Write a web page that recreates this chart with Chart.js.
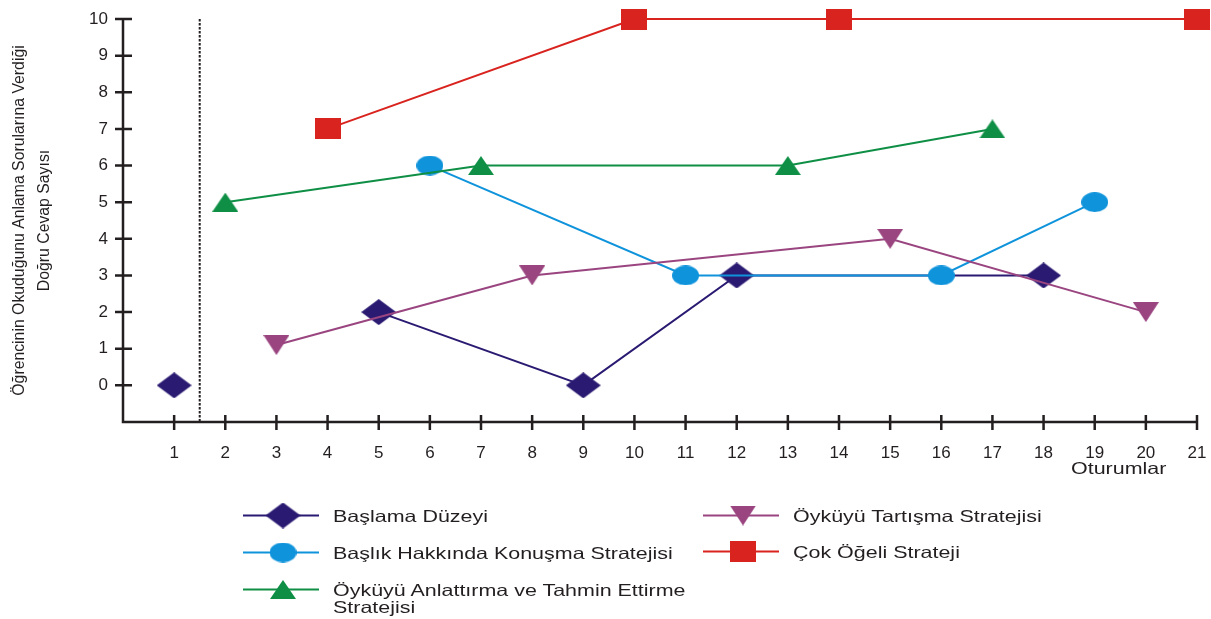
<!DOCTYPE html>
<html>
<head>
<meta charset="utf-8">
<script src="https://cdn.jsdelivr.net/npm/chart.js@4.4.1/dist/chart.umd.min.js"></script>
<style>
  body { margin: 0; background: #fff; }
  #wrap { position: relative; width: 1211px; height: 619px; }
  #chart { position: absolute; left: 0; top: 0; }
  .lg { position: absolute; display: flex; align-items: flex-start; font-family: "Liberation Sans", Arial, sans-serif; font-size: 16.5px; color: #231f20; line-height: 17px; }
  .lg canvas { flex: none; margin-right: 14px; }
  .lg span { padding-top: 6px; white-space: nowrap; transform: scaleX(1.3); transform-origin: left top; }
  #xtitle { position: absolute; font-family: "Liberation Sans", Arial, sans-serif; font-size: 16.5px; color: #231f20; transform: scaleX(1.3); transform-origin: left top; }
</style>
</head>
<body>
<div id="wrap">
  <canvas id="chart" width="1211" height="619"></canvas>
  <div id="xtitle" style="left:1071px; top:459px;">Oturumlar</div>
  <div id="legend"></div>
</div>
<script>
const sessions = [1, 2, 3, 4, 5, 6, 7, 8, 9, 10, 11, 12, 13, 14, 15, 16, 17, 18, 19, 20, 21];
const yTicks = [0, 1, 2, 3, 4, 5, 6, 7, 8, 9, 10];

const seriesNames = [
  'Başlama Düzeyi',
  'Başlık Hakkında Konuşma Stratejisi',
  'Öyküyü Anlattırma ve Tahmin Ettirme Stratejisi',
  'Öyküyü Tartışma Stratejisi',
  'Çok Öğeli Strateji'
];

// session 1 is the baseline, cut off from the rest by the null
const baslamaX = [1, 1.5, 5, 9, 12, 18];
const baslamaY = [0, null, 2, 0, 3, 3];
const baslikX = [6, 11, 16, 19];
const baslikY = [6, 3, 3, 5];
const anlattirmaX = [2, 7, 13, 17];
const anlattirmaY = [5, 6, 6, 7];
const tartismaX = [3, 8, 15, 20];
const tartismaY = [1.1, 3, 4, 2];
const cokOgeliX = [4, 10, 14, 21];
const cokOgeliY = [7, 10, 10, 10];

const colors = ['#2b1a72', '#0f93db', '#0e8f45', '#9a4580', '#d9231e'];
const ink = '#231f20';
const tickFont = {family: '"Liberation Sans", Arial, sans-serif', size: 17};

function makeMarker(shape, w, h, color) {
  const c = document.createElement('canvas');
  c.width = w; c.height = h;
  const g = c.getContext('2d');
  g.fillStyle = color;
  g.beginPath();
  if (shape === 'diamond') {
    g.moveTo(w / 2, 0); g.lineTo(w, h / 2); g.lineTo(w / 2, h); g.lineTo(0, h / 2);
  } else if (shape === 'ellipse') {
    g.ellipse(w / 2, h / 2, w / 2, h / 2, 0, 0, Math.PI * 2);
  } else if (shape === 'up') {
    g.moveTo(w / 2, 0); g.lineTo(w, h); g.lineTo(0, h);
  } else if (shape === 'down') {
    g.moveTo(0, 0); g.lineTo(w, 0); g.lineTo(w / 2, h);
  } else {
    g.rect(0, 0, w, h);
  }
  g.closePath();
  g.fill();
  return c;
}

const markers = [
  makeMarker('diamond', 35, 26, colors[0]),
  makeMarker('ellipse', 27, 20, colors[1]),
  makeMarker('up', 26, 19, colors[2]),
  makeMarker('down', 26, 20, colors[3]),
  makeMarker('square', 26, 21, colors[4])
];

function pts(xs, ys) {
  return xs.map((x, i) => ({x: x, y: ys[i]}));
}

const allX = [baslamaX, baslikX, anlattirmaX, tartismaX, cokOgeliX];
const allY = [baslamaY, baslikY, anlattirmaY, tartismaY, cokOgeliY];
const drawOrder = [5, 4, 3, 2, 1];

const datasets = seriesNames.map((name, i) => ({
  label: name,
  data: pts(allX[i], allY[i]),
  borderColor: colors[i],
  backgroundColor: colors[i],
  borderWidth: 2,
  pointStyle: markers[i],
  pointRadius: 10,
  pointHoverRadius: 10,
  tension: 0,
  spanGaps: false,
  clip: false,
  order: drawOrder[i]
}));

const axisDeco = {
  id: 'axisDeco',
  beforeDatasetsDraw(chart) {
    const {ctx, chartArea, scales: {x, y}} = chart;
    ctx.save();
    ctx.strokeStyle = ink;
    ctx.lineWidth = 2.5;
    ctx.beginPath();
    ctx.moveTo(chartArea.left, chartArea.top);
    ctx.lineTo(chartArea.left, chartArea.bottom);
    ctx.lineTo(chartArea.right, chartArea.bottom);
    ctx.stroke();
    ctx.beginPath();
    yTicks.forEach(v => {
      const py = y.getPixelForValue(v);
      ctx.moveTo(chartArea.left - 8, py);
      ctx.lineTo(chartArea.left + 9, py);
    });
    sessions.forEach(v => {
      const px = x.getPixelForValue(v);
      ctx.moveTo(px, chartArea.bottom - 7);
      ctx.lineTo(px, chartArea.bottom + 8);
    });
    ctx.stroke();
    // dotted separator between baseline and sessions
    const sx = x.getPixelForValue(1.5);
    ctx.lineWidth = 2;
    ctx.setLineDash([2.5, 1.5]);
    ctx.beginPath();
    ctx.moveTo(sx, chartArea.top);
    ctx.lineTo(sx, chartArea.bottom);
    ctx.stroke();
    ctx.restore();
  }
};

new Chart(document.getElementById('chart'), {
  type: 'line',
  data: {datasets: datasets},
  options: {
    responsive: false,
    animation: false,
    events: [],
    layout: {padding: {top: 19, right: 14, left: 0, bottom: 0}},
    plugins: {legend: {display: false}, tooltip: {enabled: false}},
    scales: {
      x: {
        type: 'linear',
        min: 0,
        max: 21,
        afterFit: s => { s.height = 197; s.paddingLeft = 0; s.paddingRight = 0; },
        afterBuildTicks: s => { s.ticks = sessions.map(v => ({value: v})); },
        grid: {display: false},
        border: {display: false},
        ticks: {
          autoSkip: false,
          maxRotation: 0,
          padding: 13,
          color: ink,
          font: tickFont
        }
      },
      y: {
        min: -1,
        max: 10,
        afterFit: s => { s.width = 123; s.paddingTop = 0; s.paddingBottom = 0; },
        afterBuildTicks: s => { s.ticks = yTicks.map(v => ({value: v})); },
        grid: {display: false},
        border: {display: false},
        ticks: {
          padding: 7,
          color: ink,
          font: tickFont
        },
        title: {
          display: true,
          text: ['Öğrencinin Okuduğunu Anlama Sorularına Verdiği', 'Doğru Cevap Sayısı'],
          color: ink,
          padding: {top: 7, bottom: 0},
          font: {family: '"Liberation Sans Narrow", "Liberation Sans", Arial, sans-serif', size: 15.8, lineHeight: 1.6}
        }
      }
    }
  },
  plugins: [axisDeco]
});

// legend: two columns under the chart
const legendSlots = [
  {left: 243, top: 502},
  {left: 243, top: 539},
  {left: 243, top: 576},
  {left: 703, top: 502},
  {left: 703, top: 538}
];
const legendText = [
  ['Başlama Düzeyi'],
  ['Başlık Hakkında Konuşma Stratejisi'],
  ['Öyküyü Anlattırma ve Tahmin Ettirme', 'Stratejisi'],
  ['Öyküyü Tartışma Stratejisi'],
  ['Çok Öğeli Strateji']
];
const legendBox = document.getElementById('legend');
seriesNames.forEach((name, i) => {
  const item = document.createElement('div');
  item.className = 'lg';
  item.style.left = legendSlots[i].left + 'px';
  item.style.top = legendSlots[i].top + 'px';

  const sample = document.createElement('canvas');
  sample.width = 76; sample.height = 27;
  const g = sample.getContext('2d');
  g.strokeStyle = colors[i];
  g.lineWidth = 2;
  g.beginPath();
  g.moveTo(0, 13.5);
  g.lineTo(76, 13.5);
  g.stroke();
  const m = markers[i];
  g.drawImage(m, 40 - m.width / 2, 13.5 - m.height / 2);
  item.appendChild(sample);

  const label = document.createElement('span');
  legendText[i].forEach((line, k) => {
    if (k > 0) label.appendChild(document.createElement('br'));
    label.appendChild(document.createTextNode(line));
  });
  item.appendChild(label);
  legendBox.appendChild(item);
});
</script>
</body>
</html>
